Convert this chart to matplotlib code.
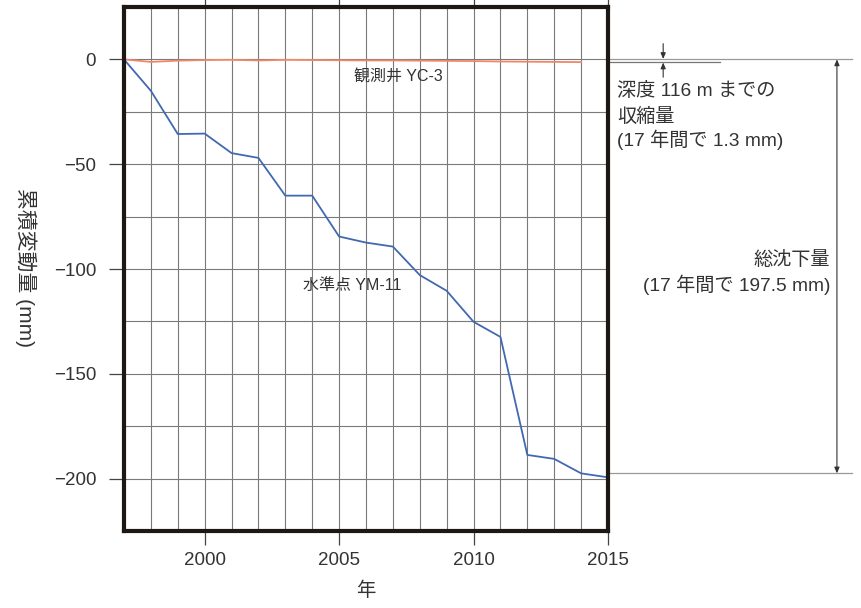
import matplotlib
matplotlib.use("Agg")
import matplotlib.pyplot as plt
from matplotlib.transforms import blended_transform_factory
import numpy as np

plt.rcParams['font.family'] = ['Liberation Sans', 'Noto Sans CJK JP', 'DejaVu Sans']

years = list(range(1997, 2016))
ym11 = [0, -15, -35.6, -35.4, -44.7, -47, -65, -65, -84.5, -87.4, -89.3,
        -102.9, -110.4, -125.2, -132.4, -188.7, -190.6, -197.5, -199.4]
yc3_years = list(range(1997, 2015))
yc3 = [0, -1.2, -0.6, -0.3, -0.2, -0.5, -0.2, -0.3, -0.4, -0.5, -0.5,
       -0.6, -0.7, -0.8, -1.0, -1.1, -1.2, -1.3]
shrink_total = -1.3
subsidence_total = -197.5

xticks = [2000, 2005, 2010, 2015]
yticks = [0, -50, -100, -150, -200]
ytick_labels = ['0', '\u221250', '\u2212100', '\u2212150', '\u2212200']

shrink_lines = ['深度 116 m までの', '収縮量', '(17 年間で 1.3 mm)']
total_lines = ['総沈下量', '(17 年間で 197.5 mm)']

txt = '#333333'
fig = plt.figure(figsize=(8.61, 6.08), dpi=100)
ax = fig.add_axes([124/861, 1-531/608, (608-124)/861, (531-7)/608])
ax.set_xlim(1997, 2015)
ax.set_ylim(-225, 25)

# grid
for yr in years:
    ax.axvline(yr, color='#7a7a7a', lw=0.8, zorder=1)
for yv in np.arange(-225, 26, 25):
    ax.axhline(yv, color='#7a7a7a', lw=0.8, zorder=1)

ax.plot(years, ym11, color='#4169b0', lw=1.3, zorder=3)
ax.plot(yc3_years, yc3, color='#f0876a', lw=1.3, zorder=3)

for s in ax.spines.values():
    s.set_linewidth(3)
    s.set_color('#1e1814')
    s.set_zorder(5)

ax.set_xticks(xticks)
ax.set_xticklabels([str(x) for x in xticks])
ax.set_yticks(yticks)
ax.set_yticklabels(ytick_labels)
ax.tick_params(axis='x', which='both', direction='out', length=10, width=0.9,
               color='#444444', labelsize=13.5, labelcolor=txt, pad=5, top=True)
ax.tick_params(axis='y', direction='out', length=11, width=0.9,
               color='#444444', labelsize=13.5, labelcolor=txt, pad=9, right=False)

ax.set_xlabel('年', fontsize=14, color=txt, labelpad=9)
fig.text(26/861, 1-268/608, '累積変動量 (mm)', rotation=270, fontsize=15,
         color=txt, ha='center', va='center')

ax.text(2007.2, -8.6, '観測井 YC-3', fontsize=11.5, color=txt, ha='center', va='center', zorder=4)
ax.text(2005.5, -107.7, '水準点 YM-11', fontsize=11.5, color=txt, ha='center', va='center', zorder=4)

tr = blended_transform_factory(ax.transAxes, ax.transData)
ax.plot([1.0, 1.504], [0, 0], transform=tr, color='#999999', lw=0.9, clip_on=False)
ax.plot([1.0, 1.231], [shrink_total, shrink_total], transform=tr, color='#777777', lw=0.9, clip_on=False)
ax.plot([1.0, 1.504], [subsidence_total, subsidence_total], transform=tr, color='#999999', lw=0.9, clip_on=False)

ap = dict(arrowstyle='-|>,head_length=0.35,head_width=0.15', color='#333333', lw=0.8,
          shrinkA=0, shrinkB=0)
ax.annotate('', xy=(1.114, 0.2), xytext=(1.114, 7.5), xycoords=tr, textcoords=tr,
            arrowprops=ap, annotation_clip=False)
ax.annotate('', xy=(1.114, shrink_total - 0.2), xytext=(1.114, -8.5), xycoords=tr, textcoords=tr,
            arrowprops=ap, annotation_clip=False)
ap2 = dict(arrowstyle='<|-|>,head_length=0.35,head_width=0.15', color='#333333', lw=0.8,
           shrinkA=0, shrinkB=0)
ax.annotate('', xy=(1.473, 0), xytext=(1.473, subsidence_total), xycoords=tr, textcoords=tr,
            arrowprops=ap2, annotation_clip=False)

for line, yv in zip(shrink_lines, [-15.3, -27.3, -38.3]):
    ax.text(1.019, yv, line, transform=tr, fontsize=13.8, color=txt, ha='left', va='center')
for line, yv in zip(total_lines, [-95.7, -107.7]):
    ax.text(1.459, yv, line, transform=tr, fontsize=13.8, color=txt, ha='right', va='center')

fig.savefig('out.png', dpi=100)
